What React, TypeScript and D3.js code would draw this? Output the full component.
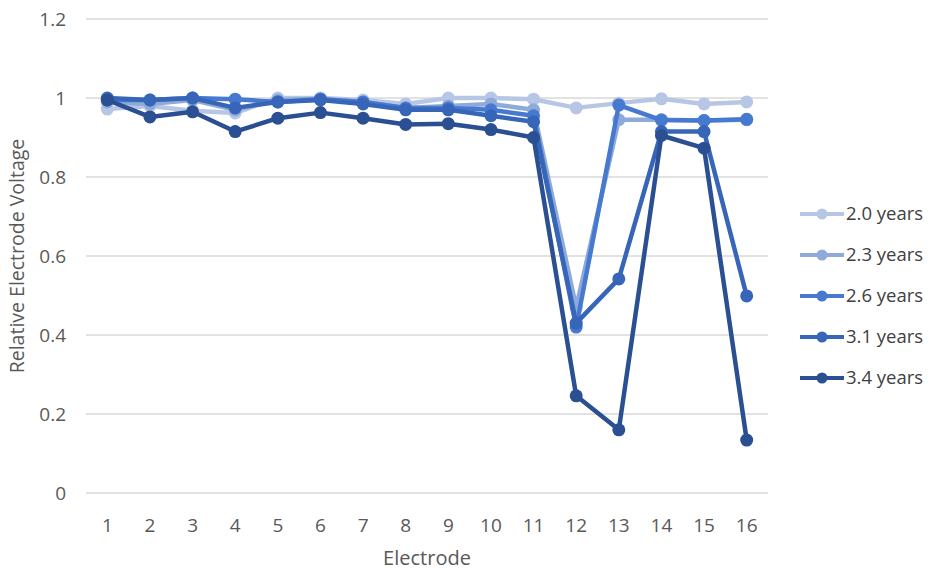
import React, { useRef, useEffect } from "react";
import * as d3 from "d3";

const electrodes = [1, 2, 3, 4, 5, 6, 7, 8, 9, 10, 11, 12, 13, 14, 15, 16];
const seriesNames = ["2.0 years", "2.3 years", "2.6 years", "3.1 years", "3.4 years"];
const seriesColors = ["#b8c6e6", "#8eaadb", "#4679cf", "#3766b8", "#2b4f93"];

const years20 = [0.972, 0.98, 0.968, 0.962, 1.0, 1.0, 0.995, 0.985, 1.0, 1.0, 0.997, 0.975, 0.987, 0.998, 0.985, 0.99];
const years23 = [0.99, 0.985, 0.995, 0.97, 0.995, 0.998, 0.99, 0.975, 0.98, 0.985, 0.97, 0.47, 0.945, 0.945, 0.943, 0.945];
const years26 = [0.995, 0.995, 1.0, 0.997, 0.99, 0.997, 0.99, 0.975, 0.975, 0.97, 0.955, 0.42, 0.982, 0.944, 0.943, 0.946];
const years31 = [1.0, 0.995, 1.0, 0.975, 0.99, 0.995, 0.985, 0.97, 0.97, 0.955, 0.94, 0.43, 0.542, 0.915, 0.915, 0.499];
const years34 = [0.995, 0.952, 0.965, 0.915, 0.949, 0.963, 0.949, 0.933, 0.935, 0.92, 0.9, 0.246, 0.16, 0.905, 0.873, 0.134];
const seriesValues = [years20, years23, years26, years31, years34];

const yTicks = [0, 0.2, 0.4, 0.6, 0.8, 1, 1.2];

export default function App() {
  const svgRef = useRef<SVGSVGElement | null>(null);

  useEffect(() => {
    const svg = d3.select(svgRef.current);
    svg.selectAll("*").remove();
    const width = 935;
    const height = 574;
    const margin = { top: 19, right: 167, bottom: 81, left: 86 };
    const font = "'Open Sans', sans-serif";

    svg.append("rect").attr("width", width).attr("height", height).attr("fill", "#fff");

    const x = d3
      .scaleBand<number>()
      .domain(electrodes)
      .range([margin.left, width - margin.right]);

    const y = d3
      .scaleLinear()
      .domain([0, 1.2])
      .range([height - margin.bottom, margin.top]);

    // gridlines
    svg
      .append("g")
      .selectAll("line")
      .data(yTicks)
      .join("line")
      .attr("x1", margin.left)
      .attr("x2", width - margin.right)
      .attr("y1", (d) => y(d))
      .attr("y2", (d) => y(d))
      .attr("stroke", "#d9d9d9")
      .attr("stroke-width", 1.3);

    // y tick labels
    svg
      .append("g")
      .selectAll("text")
      .data(yTicks)
      .join("text")
      .attr("x", 66)
      .attr("y", (d) => y(d))
      .attr("dy", "0.35em")
      .attr("text-anchor", "end")
      .attr("font-family", font)
      .attr("font-size", 19)
      .attr("fill", "#595959")
      .text((d) => (d === 0 || d === 1 ? String(d) : d.toFixed(1)));

    // x tick labels
    svg
      .append("g")
      .selectAll("text")
      .data(electrodes)
      .join("text")
      .attr("x", (d) => (x(d) ?? 0) + x.bandwidth() / 2)
      .attr("y", 525)
      .attr("dy", "0.35em")
      .attr("text-anchor", "middle")
      .attr("font-family", font)
      .attr("font-size", 19)
      .attr("fill", "#595959")
      .text((d) => d);

    svg
      .append("text")
      .attr("x", (margin.left + width - margin.right) / 2)
      .attr("y", 558)
      .attr("dy", "0.35em")
      .attr("text-anchor", "middle")
      .attr("font-family", font)
      .attr("font-size", 20)
      .attr("fill", "#595959")
      .text("Electrode");

    svg
      .append("text")
      .attr("transform", `translate(17,${(margin.top + height - margin.bottom) / 2}) rotate(-90)`)
      .attr("dy", "0.35em")
      .attr("text-anchor", "middle")
      .attr("font-family", font)
      .attr("font-size", 19.5)
      .attr("fill", "#595959")
      .text("Relative Electrode Voltage");

    const line = d3
      .line<number>()
      .x((_, i) => (x(electrodes[i]) ?? 0) + x.bandwidth() / 2)
      .y((d) => y(d));

    seriesValues.forEach((vals, si) => {
      const g = svg.append("g");
      g.append("path")
        .attr("d", line(vals))
        .attr("fill", "none")
        .attr("stroke", seriesColors[si])
        .attr("stroke-width", 4.5)
        .attr("stroke-linejoin", "round");
      g.selectAll("circle")
        .data(vals)
        .join("circle")
        .attr("cx", (_, i) => (x(electrodes[i]) ?? 0) + x.bandwidth() / 2)
        .attr("cy", (d) => y(d))
        .attr("r", 6.5)
        .attr("fill", seriesColors[si]);
    });

    // legend
    const legend = svg
      .append("g")
      .selectAll("g")
      .data(seriesNames)
      .join("g")
      .attr("transform", (_, i) => `translate(800,${214 + i * 41})`);
    legend
      .append("line")
      .attr("x1", 0)
      .attr("x2", 44)
      .attr("stroke", (_, i) => seriesColors[i])
      .attr("stroke-width", 4);
    legend
      .append("circle")
      .attr("cx", 22)
      .attr("r", 5.5)
      .attr("fill", (_, i) => seriesColors[i]);
    legend
      .append("text")
      .attr("x", 46)
      .attr("dy", "0.35em")
      .attr("font-family", font)
      .attr("font-size", 18.5)
      .attr("fill", "#404040")
      .text((d) => d);
  }, []);

  return <svg ref={svgRef} width={935} height={574} style={{ display: "block", margin: -8 }} />;
}
